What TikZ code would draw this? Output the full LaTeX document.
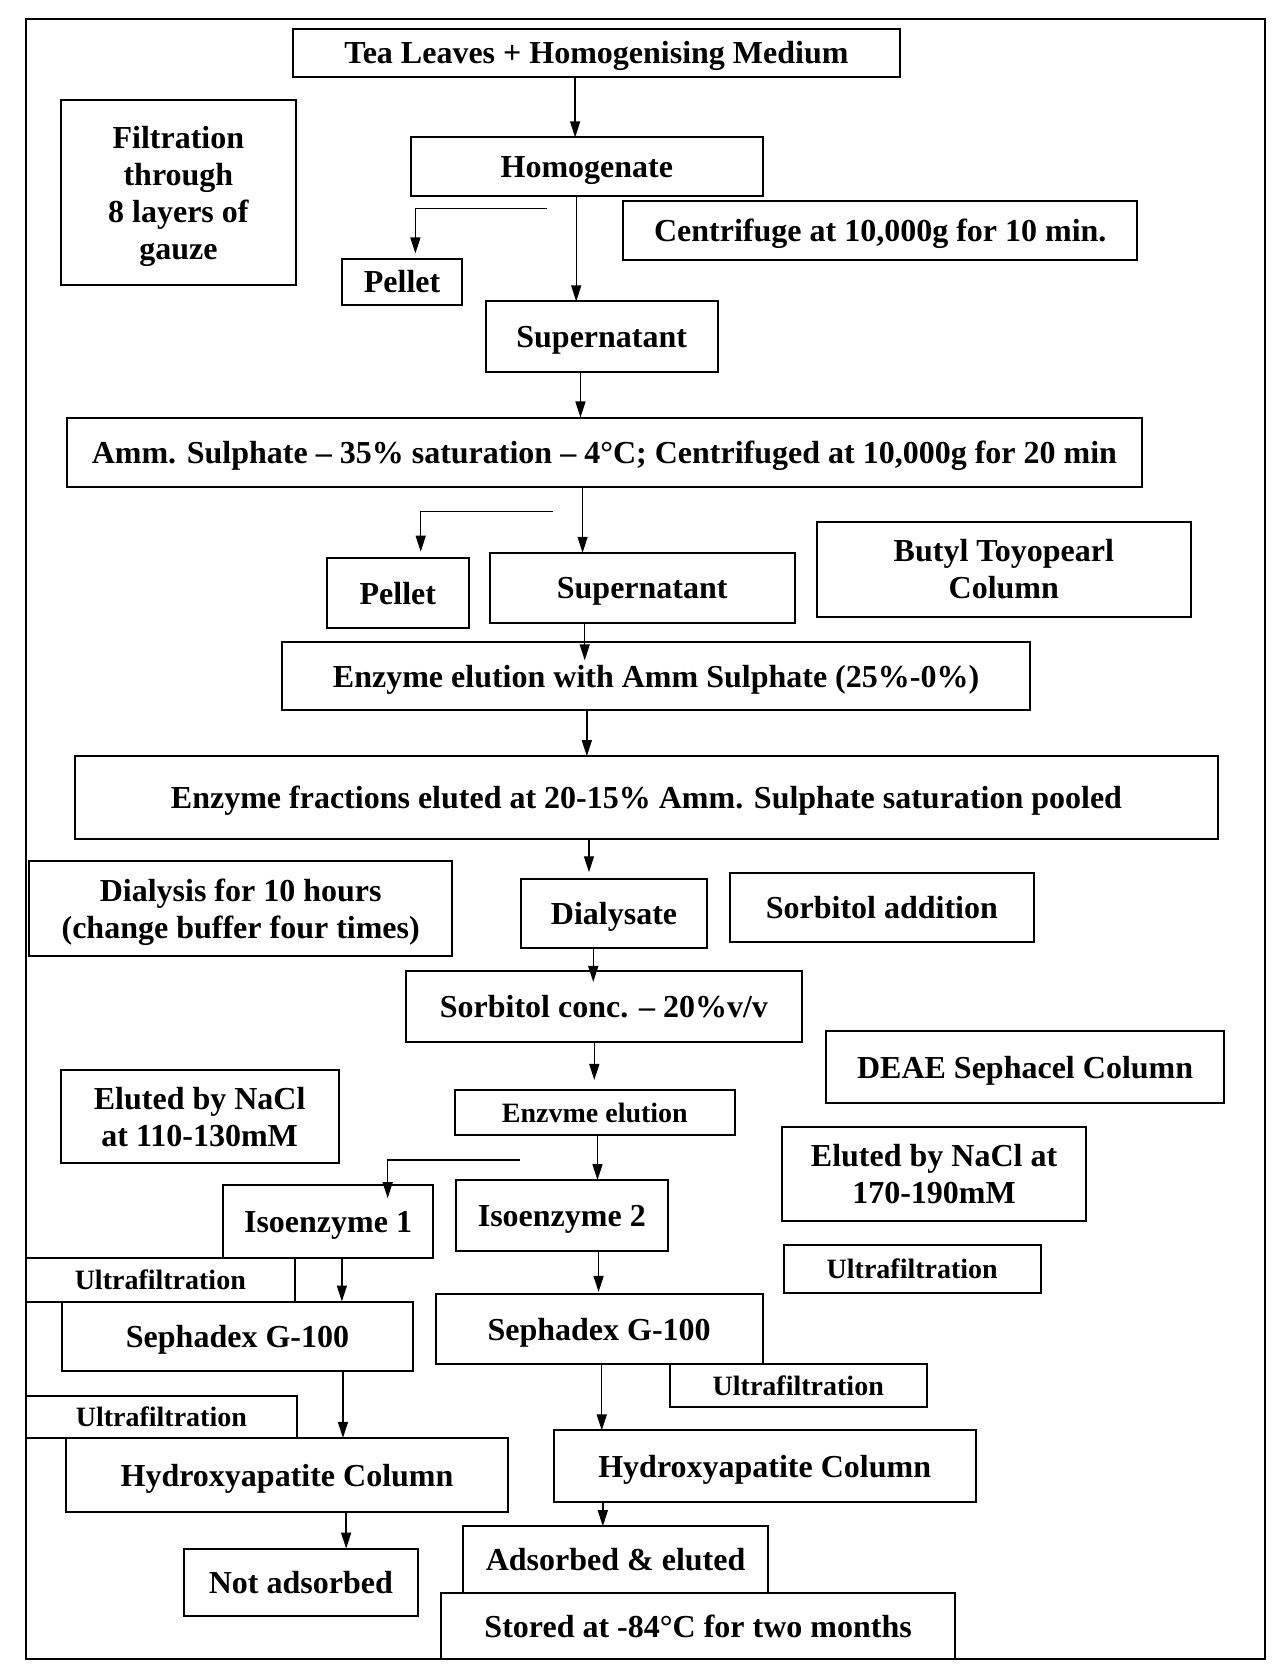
\documentclass[tikz,border=0pt]{standalone}
\usepackage{fontspec}
\setmainfont{Liberation Serif}
\usetikzlibrary{arrows.meta,calc}

\tikzset{
  box/.style={draw, line width=1pt, inner sep=0pt, outer sep=0pt,
    font=\fontsize{16}{18.5}\selectfont\bfseries, align=center, text depth=0pt},
  small/.style={font=\fontsize{14}{16}\selectfont\bfseries},
  sz/.style 2 args={minimum width=#1*0.5325pt, minimum height=#2*0.5325pt},
  arr/.style={draw, line width=0.7pt, -{Triangle[length=8pt,width=5pt]}},
  frame/.style={draw, line width=1pt},
}

\begin{document}
\begin{tikzpicture}[x=0.5325pt, y=-0.5325pt]
\useasboundingbox (0,0) rectangle (1202,1568);

% outer frame
\draw[frame] (24,18) rectangle (1188,1558);

% ---- boxes ----
\node[box, sz={570}{45}] (tea) at (560,49.5) {Tea Leaves + Homogenising Medium};
\node[box, sz={221}{174}] (filt) at (167.5,181) {Filtration\\through\\8 layers of\\gauze};
\node[box, sz={330}{55}] (hom) at (551,156.5) {Homogenate};
\node[box, sz={483}{55}] (cent) at (826.5,216.5) {Centrifuge at 10,000g for 10 min.};
\node[box, sz={113}{43}] (pel1) at (377.5,264.5) {Pellet};
\node[box, sz={218}{66}] (sup1) at (565,316) {Supernatant};
\node[box, sz={1009}{65}] (amm) at (567.5,424.5) {Amm. Sulphate – 35\% saturation – 4°C; Centrifuged at 10,000g for 20 min};
\node[box, sz={133}{66}] (pel2) at (373.5,557) {Pellet};
\node[box, sz={286}{66}] (sup2) at (603,552) {Supernatant};
\node[box, sz={351}{89}] (butyl) at (942.5,534.5) {Butyl Toyopearl\\Column};
\node[box, sz={702}{64}] (elu) at (616,635) {Enzyme elution with Amm Sulphate (25\%-0\%)};
\node[box, sz={1074}{78}] (frac) at (607,749) {Enzyme fractions eluted at 20-15\% Amm. Sulphate saturation pooled};
\node[box, sz={397}{90}] (dial) at (226,853) {Dialysis for 10 hours\\(change buffer four times)};
\node[box, sz={175}{65}] (dsate) at (576.5,857.5) {Dialysate};
\node[box, sz={286}{64}] (sadd) at (828,852) {Sorbitol addition};
\node[box, sz={372}{66}] (sconc) at (567,945) {Sorbitol conc. – 20\%v/v};
\node[box, sz={373}{68}] (deae) at (962.5,1002) {DEAE Sephacel Column};
\node[box, sz={261}{87}] (nacl1) at (187.5,1048.5) {Eluted by NaCl\\at 110-130mM};
\node[box, small, sz={263}{43}] (elu2) at (558.5,1044.5) {Enzvme elution};
\node[box, sz={286}{88}] (nacl2) at (877,1102) {Eluted by NaCl at\\170-190mM};
\node[box, sz={198}{68}] (iso1) at (308,1147) {Isoenzyme 1};
\node[box, sz={199}{67}] (iso2) at (527.5,1141.5) {Isoenzyme 2};
\node[box, small, sz={253}{41}] (uf1) at (150.5,1201.5) {Ultrafiltration};
\node[box, sz={330}{65}] (sep1) at (223,1254.5) {Sephadex G-100};
\node[box, small, sz={241}{45}] (uf2) at (856.5,1191.5) {Ultrafiltration};
\node[box, sz={307}{66}] (sep2) at (562.5,1248) {Sephadex G-100};
\node[box, small, sz={241}{40}] (uf3) at (749.5,1301) {Ultrafiltration};
\node[box, small, sz={255}{39}] (uf4) at (151.5,1330.5) {Ultrafiltration};
\node[box, sz={415}{70}] (hyd1) at (269.5,1385) {Hydroxyapatite Column};
\node[box, sz={396}{67}] (hyd2) at (718,1376.5) {Hydroxyapatite Column};
\node[box, sz={219}{63}] (nad) at (282.5,1485.5) {Not adsorbed};
\node[box, sz={286}{63}] (ads) at (578,1464.5) {Adsorbed \& eluted};
\node[box, sz={483}{62}] (stor) at (655.5,1527) {Stored at -84°C for two months};

% ---- x positions of the vertical flow lines ----
\coordinate (xa) at (540,0);
\coordinate (xb) at (541,0);
\coordinate (xc) at (390,0);
\coordinate (xd) at (545,0);
\coordinate (xe) at (547,0);
\coordinate (xf) at (395,0);
\coordinate (xg) at (549,0);
\coordinate (xh) at (551,0);
\coordinate (xi) at (553,0);
\coordinate (xj) at (557,0);
\coordinate (xk) at (558,0);
\coordinate (xl) at (561,0);
\coordinate (xm) at (364,0);
\coordinate (xn) at (321,0);
\coordinate (xo) at (562,0);
\coordinate (xp) at (322,0);
\coordinate (xq) at (565,0);
\coordinate (xr) at (325,0);
\coordinate (xs) at (566,0);

% free starting ends of the side branches
\coordinate (br1) at (514,196);
\coordinate (br2) at (519,480);
\coordinate (br3) at (488,1089);

% ---- connectors ----
\draw[arr] (tea.south -| xa) -- (hom.north -| xa);
\draw[arr] (hom.south -| xb) -- (sup1.north -| xb);
\draw[arr] (br1) -| ($(pel1.north -| xc)+(0,-5)$);
\draw[arr] (sup1.south -| xd) -- (amm.north -| xd);
\draw[arr] (amm.south -| xe) -- (sup2.north -| xe);
\draw[arr] (br2) -| ($(pel2.north -| xf)+(0,-6)$);
\draw[arr] (sup2.south -| xg) -- ($(elu.north -| xg)+(0,17)$);
\draw[arr] (elu.south -| xh) -- (frac.north -| xh);
\draw[arr] (frac.south -| xi) -- ($(dsate.north -| xi)+(0,-6)$);
\draw[arr] (dsate.south -| xj) -- ($(sconc.north -| xj)+(0,10)$);
\draw[arr] (sconc.south -| xk) -- ($(elu2.north -| xk)+(0,-9)$);
\draw[arr] (elu2.south -| xl) -- (iso2.north -| xl);
\draw[arr] (br3) -| ($(iso1.north -| xm)+(0,12)$);
\draw[arr] (iso1.south -| xn) -- (sep1.north -| xn);
\draw[arr] (iso2.south -| xo) -- ($(sep2.north -| xo)+(0,-2)$);
\draw[arr] (sep1.south -| xp) -- (hyd1.north -| xp);
\draw[arr] (sep2.south -| xq) -- (hyd2.north -| xq);
\draw[arr] (hyd1.south -| xr) -- (nad.north -| xr);
\draw[arr] (hyd2.south -| xs) -- (ads.north -| xs);
\end{tikzpicture}
\end{document}
